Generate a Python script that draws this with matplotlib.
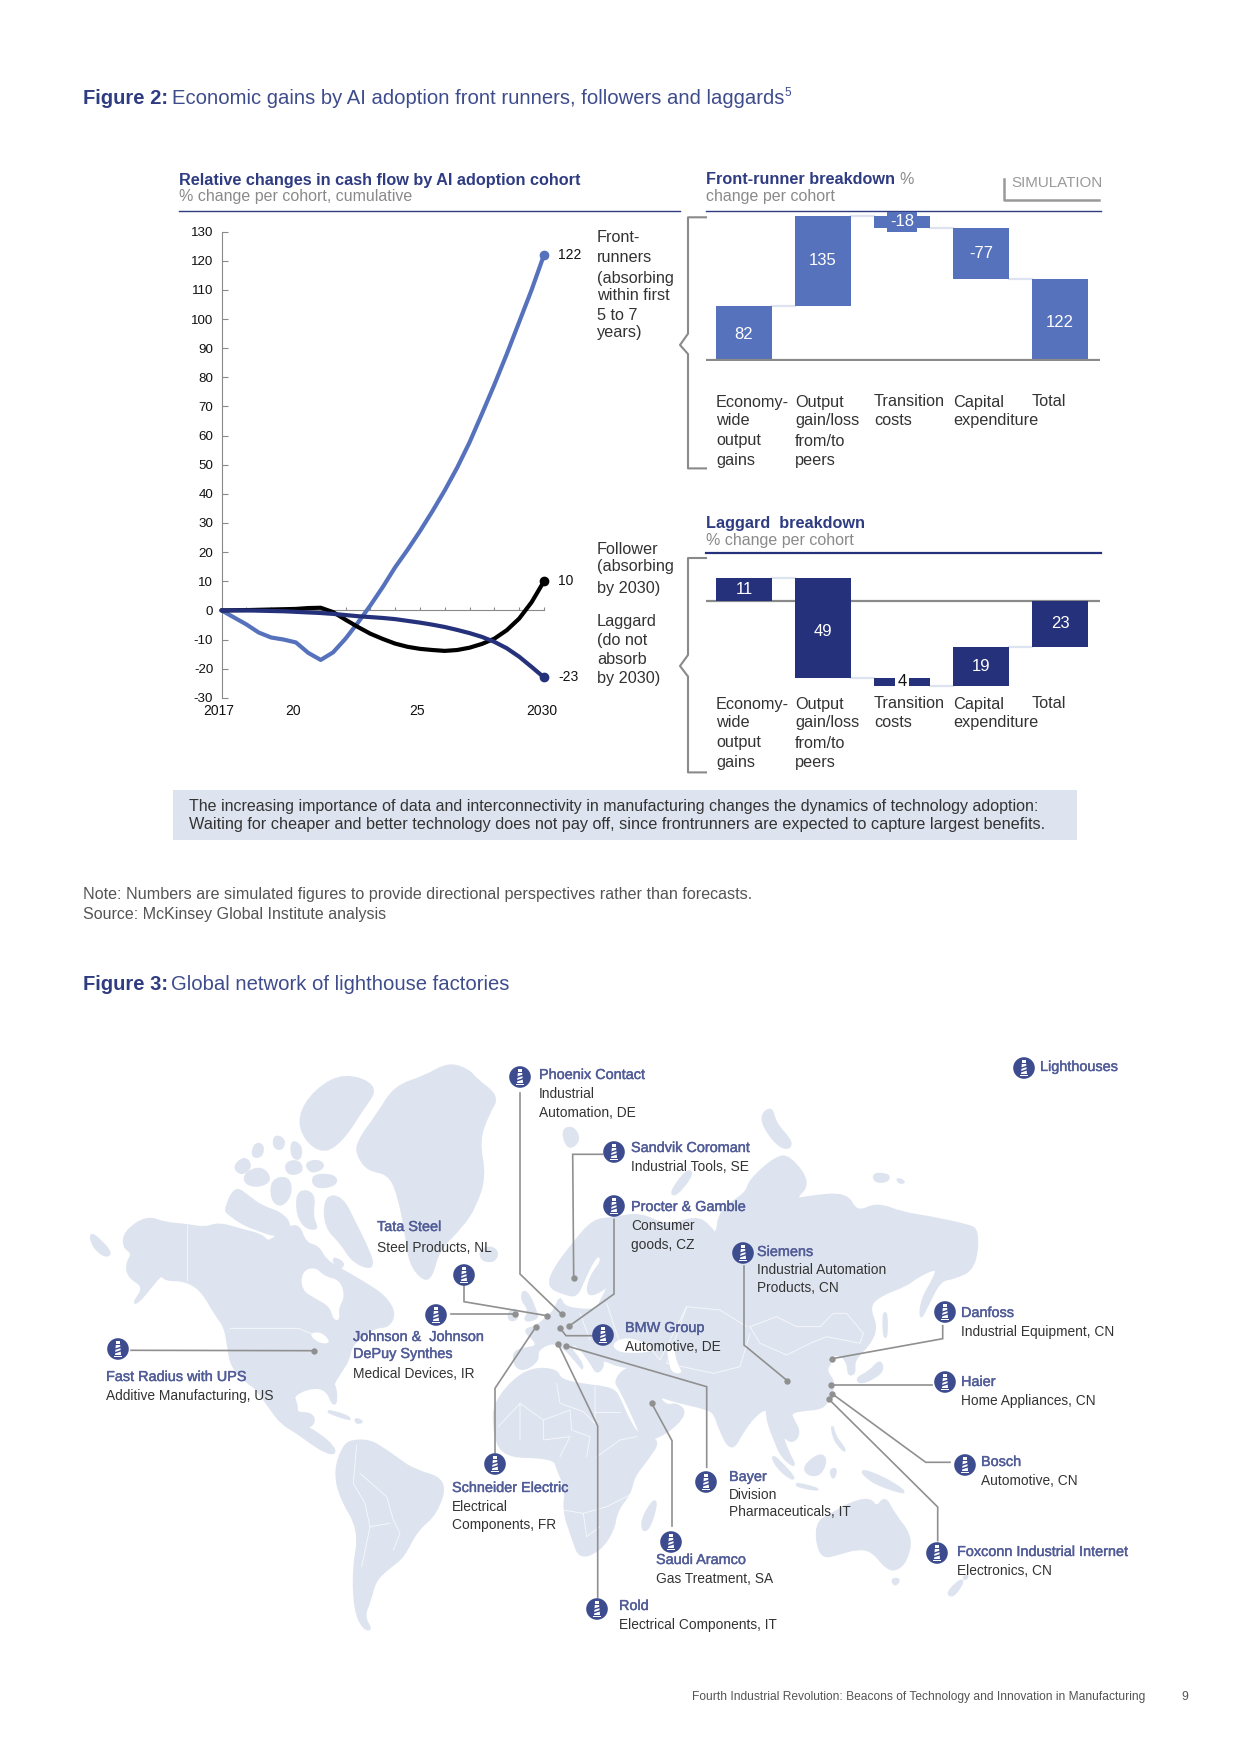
import matplotlib
matplotlib.use('Agg')
import matplotlib.pyplot as plt
import matplotlib.patheffects as pe
from matplotlib.patches import Polygon, Circle, Rectangle, PathPatch
from matplotlib.path import Path

plt.rcParams['font.family'] = ['Liberation Sans', 'DejaVu Sans']

W, H = 1240, 1754
NAVY = '#25317A'
BLUE = '#5672BC'
TITLE = '#3F4C8C'
HEAD = '#2F3C82'
NAME = '#525D98'
GREY = '#8A8A8A'
LAND = '#DEE4EF'
TXT = '#333333'

# --- chart data
years = [2017, 2018, 2018.5, 2019, 2019.5, 2020, 2020.5, 2021, 2021.5, 2022, 2022.5, 2023, 2023.5, 2024, 2024.5,
         2025, 2025.5, 2026, 2026.5, 2027, 2027.5, 2028, 2028.5, 2029, 2029.5, 2030]
front_runners = [0, -4.8, -7.6, -9.3, -10, -11, -14.6, -17, -14.4, -9.7, -4.2, 1.7, 8, 14.8, 20.8,
                 27.2, 34, 41.2, 49, 57.7, 67.5, 77.5, 88, 99, 110, 122]
followers = [0, 0.1, 0.2, 0.3, 0.4, 0.5, 0.8, 0.9, -0.6, -3.2, -5.7, -8, -9.8, -11.4, -12.5,
             -13.2, -13.6, -13.9, -13.6, -12.8, -11.5, -9.7, -6.8, -2.8, 2.8, 10]
laggards = [0, 0, -0.1, -0.2, -0.3, -0.5, -0.7, -0.9, -1.2, -1.6, -2, -2.3, -2.6, -3, -3.6,
            -4.2, -4.9, -5.7, -6.7, -7.8, -9.1, -10.8, -13, -15.9, -19.4, -23]
y_ticks = list(range(-30, 131, 10))
year_ticks = list(range(2017, 2031))
year_labels = {2017: '2017', 2020: '20', 2025: '25', 2030: '2030'}

steps = ['Economy-\nwide\noutput\ngains', 'Output\ngain/loss\nfrom/to\npeers', 'Transition\ncosts',
         'Capital\nexpenditure', 'Total']
front_steps = [82, 135, -18, -77, 122]
lag_steps = [11, -49, -4, 19, -23]

# --- map labels: name, description lines
lighthouses = [
    ('Phoenix Contact', ['Industrial', 'Automation, DE']),
    ('Sandvik Coromant', ['Industrial Tools, SE']),
    ('Procter & Gamble', ['Consumer', 'goods, CZ']),
    ('Tata Steel', ['Steel Products, NL']),
    ('Johnson &  Johnson\nDePuy Synthes', ['Medical Devices, IR']),
    ('Fast Radius with UPS', ['Additive Manufacturing, US']),
    ('BMW Group', ['Automotive, DE']),
    ('Siemens', ['Industrial Automation', 'Products, CN']),
    ('Schneider Electric', ['Electrical', 'Components, FR']),
    ('Bayer', ['Division', 'Pharmaceuticals, IT']),
    ('Saudi Aramco', ['Gas Treatment, SA']),
    ('Rold', ['Electrical Components, IT']),
    ('Danfoss', ['Industrial Equipment, CN']),
    ('Haier', ['Home Appliances, CN']),
    ('Bosch', ['Automotive, CN']),
    ('Foxconn Industrial Internet', ['Electronics, CN']),
]
icon_xy = [(520, 1077), (614, 1152), (614, 1206), (464, 1275), (436, 1315), (118, 1349), (603, 1335), (743, 1253),
           (495, 1464), (706, 1482), (671, 1542), (597, 1609), (945, 1312), (945, 1382), (965, 1465), (937, 1553)]
label_x = [539, 631, 631, 377, 353, 106, 625, 757, 452, 729, 656, 619, 961, 961, 981, 957]
label_y = [[1075, 1094, 1113], [1148, 1167], [1207, 1226, 1245], [1227, 1248], [1337, 1354, 1374], [1377, 1396],
           [1328, 1347], [1252, 1270, 1288], [1488, 1507, 1525], [1477, 1495, 1512], [1560, 1579], [1606, 1625],
           [1313, 1332], [1382, 1401], [1462, 1481], [1552, 1571]]
leaders = [
    [(520, 1093), (520, 1274), (561.7, 1314.3)],
    [(602.7, 1154.3), (572.7, 1154.3), (573.7, 1278)],
    [(614, 1219.3), (614, 1294), (569.3, 1326)],
    [(464, 1286), (464, 1301.7), (547, 1315.7)],
    [(451, 1314.3), (514.7, 1314.3)],
    [(131, 1350.3), (314.3, 1350.7)],
    [(592.7, 1335.7), (566, 1335.7), (559.7, 1327.7)],
    [(744, 1266), (744, 1345), (787.3, 1380.7)],
    [(495, 1452.7), (495, 1388.3), (536, 1326.7)],
    [(706.7, 1467.3), (706.7, 1386.7), (566, 1345.7)],
    [(672, 1526), (672, 1440.7), (651.7, 1403.3)],
    [(597.7, 1597.3), (597.7, 1426), (558, 1343.7)],
    [(942.7, 1325.7), (942.7, 1338.7), (832, 1358.7)],
    [(931.7, 1385.3), (831, 1385.3)],
    [(950, 1462.3), (925.7, 1462.3), (832, 1393.7)],
    [(937.7, 1540.7), (937.7, 1507), (828.7, 1399)],
]


def trace(x0, y0, pts):
    return [(x0 + a / 3, y0 + b / 3) for a, b in pts]


eurasia = trace(480, 1080, [
    (105, 860), (135, 870), (175, 840), (170, 810), (215, 785), (250, 800), (295, 850), (310, 870), (300, 840),
    (265, 800), (290, 790), (335, 850), (350, 880), (370, 860), (365, 835), (420, 860), (470, 860), (430, 870),
    (405, 905), (420, 925), (470, 1030), (490, 1085), (560, 1060), (620, 1000), (590, 970), (560, 980), (530, 945),
    (590, 965), (680, 985), (705, 1000), (720, 1050), (755, 1115), (790, 1050), (830, 1000), (860, 985)
]) + trace(700, 1080, [
    (200, 990), (205, 1030), (225, 1080), (245, 1130), (290, 1165), (260, 1110), (245, 1060), (275, 1090), (300, 1060),
    (280, 1020), (270, 1000), (300, 990), (370, 985), (388, 950), (405, 910), (375, 870), (395, 845), (375, 830),
    (420, 820), (445, 850), (445, 885), (465, 880), (460, 840), (510, 790), (530, 740), (505, 680), (540, 645),
    (620, 615), (650, 590), (715, 560), (700, 600), (665, 660), (660, 720), (680, 680), (720, 600), (760, 595),
    (825, 565), (835, 450), (800, 435), (680, 410), (610, 400), (530, 370), (470, 400), (440, 340), (330, 350),
    (280, 360), (330, 310), (270, 230), (230, 230), (150, 300), (140, 340)
]) + trace(480, 1080, [
    (720, 390), (710, 470), (690, 440), (650, 410), (560, 440), (480, 400), (400, 415), (340, 420), (280, 490),
    (220, 570), (205, 620), (250, 640), (290, 650), (310, 600), (350, 520), (370, 540), (330, 590), (320, 650),
    (370, 630), (395, 600), (370, 650), (350, 690), (300, 690), (250, 680), (240, 650), (225, 690), (205, 710),
    (170, 740), (130, 750), (165, 780), (170, 800), (140, 805), (100, 815)
])
north_america = trace(85, 1050, [
    (120, 545), (185, 500), (240, 520), (305, 525), (360, 535), (400, 520), (470, 540), (530, 555), (550, 580),
    (590, 545), (640, 520), (660, 580), (700, 590), (720, 630), (770, 660), (840, 700), (900, 740), (930, 790),
    (910, 830), (870, 830), (800, 880), (790, 930), (770, 960), (745, 1000), (740, 1020), (750, 1055), (745, 1060),
    (725, 1020), (690, 1010), (640, 1025), (620, 1050), (630, 1090), (680, 1090), (690, 1120), (650, 1140),
    (680, 1160), (720, 1190), (745, 1195), (745, 1210), (720, 1205), (680, 1180), (640, 1150), (590, 1120),
    (560, 1080), (510, 1010), (490, 1000), (440, 950), (430, 890), (420, 830), (390, 790), (350, 720), (300, 690),
    (240, 690), (230, 670), (190, 720), (160, 755), (145, 760), (180, 710), (130, 680), (125, 640), (145, 610),
    (115, 590)
])
south_america = trace(340, 1370, [
    (35, 212), (90, 212), (135, 240), (170, 265), (220, 300), (320, 330), (290, 430), (230, 480), (190, 560),
    (150, 590), (105, 630), (90, 690), (70, 740), (95, 780), (70, 775), (45, 720), (40, 600), (60, 480), (0, 380),
    (-15, 300), (10, 230)
])
africa = trace(480, 1360, [
    (100, 60), (160, 25), (230, 30), (240, 60), (310, 75), (400, 85), (420, 120), (450, 190), (480, 230), (540, 240),
    (500, 300), (460, 350), (450, 400), (410, 450), (400, 510), (360, 570), (300, 595), (280, 540), (250, 450),
    (260, 390), (230, 320), (225, 300), (170, 290), (100, 290), (55, 265), (40, 190), (45, 130)
])
greenland = trace(85, 1050, [
    (815, 280), (880, 190), (930, 110), (1020, 80), (1090, 40), (1150, 60), (1175, 90), (1240, 140), (1210, 190),
    (1180, 270), (1200, 380), (1170, 470), (1130, 530), (1060, 600), (1040, 680), (1015, 690), (975, 640), (965, 560),
    (940, 430), (910, 370), (850, 360), (820, 320)
])
australia = trace(760, 1380, [
    (165, 430), (220, 400), (270, 370), (330, 355), (350, 385), (375, 350), (400, 400), (455, 470), (440, 540),
    (410, 570), (380, 565), (335, 510), (290, 505), (240, 520), (180, 535)
])
islands = [
    trace(85, 1050, [(640, 1120), (700, 1150), (750, 1195), (745, 1215), (700, 1190), (640, 1150)]),
    trace(85, 1050, [(725, 1000), (750, 1000), (755, 1060), (740, 1060)]),
    trace(85, 1050, [(520, 990), (630, 1020), (640, 1130), (590, 1110)]),
    trace(85, 1050, [(720, 440), (770, 440), (810, 520), (840, 580), (865, 640), (850, 655), (800, 630), (770, 580), (720, 530)]),
    trace(85, 1050, [(420, 480), (450, 410), (490, 440), (530, 470), (590, 490), (620, 530), (580, 560), (520, 540), (470, 520), (430, 490)]),
    trace(85, 1050, [(640, 200), (690, 120), (780, 70), (880, 110), (830, 180), (780, 260), (720, 310), (660, 270)]),
    trace(85, 1050, [(570, 255), (600, 270), (590, 300), (565, 290)]),
    trace(85, 1050, [(620, 270), (650, 290), (645, 330), (620, 320)]),
    trace(85, 1050, [(510, 280), (535, 285), (530, 320), (500, 320)]),
    trace(85, 1050, [(445, 350), (480, 320), (500, 350), (470, 375)]),
    trace(85, 1050, [(480, 370), (530, 350), (560, 390), (520, 410), (480, 400)]),
    trace(85, 1050, [(600, 340), (640, 330), (655, 365), (610, 375)]),
    trace(85, 1050, [(660, 340), (700, 330), (720, 350), (680, 370)]),
    trace(85, 1050, [(680, 375), (750, 375), (755, 405), (690, 415)]),
    trace(85, 1050, [(560, 390), (610, 380), (620, 430), (590, 470), (560, 450)]),
    trace(85, 1050, [(640, 420), (690, 430), (680, 500), (700, 540), (655, 530), (635, 480)]),
    trace(85, 1050, [(740, 620), (780, 640), (760, 660)]),
    trace(85, 1050, [(1185, 600), (1220, 590), (1240, 610), (1225, 635), (1190, 630)]),
    trace(85, 1050, [(15, 550), (40, 565), (80, 610), (60, 620), (25, 590)]),
    trace(85, 1050, [(720, 1080), (780, 1095), (800, 1110), (750, 1095)]),
    trace(85, 1050, [(810, 1105), (835, 1115), (815, 1120)]),
    trace(480, 1080, [(130, 630), (150, 650), (165, 690), (175, 715), (130, 725), (150, 690), (125, 660)]),
    trace(480, 1080, [(90, 690), (115, 690), (110, 720), (85, 720)]),
    trace(480, 1080, [(245, 150), (280, 140), (300, 180), (265, 210)]),
    trace(480, 1080, [(570, 340), (620, 270), (640, 280), (590, 345)]),
    trace(480, 1360, [(520, 420), (530, 430), (510, 500), (490, 515), (485, 480)]),
    trace(700, 1080, [(470, 895), (510, 875), (540, 840), (550, 870), (520, 895), (480, 910)]),
    trace(700, 1080, [(550, 700), (560, 700), (560, 770), (552, 770)]),
    trace(700, 1080, [(180, 110), (215, 80), (225, 130), (280, 190), (255, 210), (210, 170)]),
    trace(700, 1080, [(520, 280), (570, 285), (560, 305), (525, 305)]),
    trace(700, 1080, [(590, 295), (615, 305), (600, 310)]),
    trace(760, 1380, [(215, 130), (225, 170), (250, 200), (255, 215), (235, 195), (220, 170)]),
    trace(760, 1380, [(35, 225), (60, 245), (105, 295), (90, 295), (50, 260)]),
    trace(760, 1380, [(110, 310), (170, 325), (170, 330), (110, 318)]),
    trace(760, 1380, [(130, 260), (180, 220), (200, 240), (180, 285), (145, 285)]),
    trace(760, 1380, [(210, 270), (230, 265), (220, 300)]),
    trace(760, 1380, [(300, 270), (340, 280), (400, 310), (440, 340), (400, 330), (360, 315), (330, 300)]),
    trace(760, 1380, [(395, 597), (420, 597), (405, 618)]),
    trace(760, 1380, [(560, 640), (600, 600), (610, 605), (580, 650)]),
    trace(760, 1380, [(610, 590), (625, 585), (615, 600)]),
]
inland_water = [
    trace(85, 1050, [(650, 665), (690, 650), (720, 680), (765, 690), (780, 740), (760, 775), (765, 810), (745, 810), (735, 770), (690, 745), (650, 720)]),
    trace(480, 1080, [(395, 790), (440, 770), (500, 790), (520, 815), (460, 820), (410, 815)]),
    trace(480, 1080, [(560, 800), (580, 790), (590, 850), (610, 880), (575, 880), (565, 840)]),
    trace(85, 1050, [(670, 850), (710, 845), (740, 880), (700, 880)]),
]
borders = [
    trace(85, 1050, [(435, 835), (640, 835), (700, 860)]),
    trace(85, 1050, [(305, 525), (305, 690)]),
    trace(700, 1080, [(150, 740), (230, 710), (290, 740), (360, 740), (400, 700), (440, 700), (490, 760), (480, 790), (380, 770), (330, 790), (260, 825), (180, 790), (150, 740)]),
    trace(480, 1360, [(230, 70), (240, 130), (310, 155), (345, 190), (345, 80)]),
    trace(480, 1360, [(345, 155), (420, 155)]),
    trace(480, 1360, [(120, 130), (190, 180), (270, 150), (275, 210), (330, 230), (320, 290)]),
    trace(480, 1360, [(55, 200), (120, 130), (120, 240)]),
    trace(480, 1360, [(190, 180), (190, 240), (270, 230), (240, 290)]),
    trace(480, 1360, [(350, 290), (420, 240), (470, 230)]),
    trace(480, 1360, [(250, 450), (310, 460), (380, 440), (460, 400)]),
    trace(480, 1360, [(310, 460), (320, 530), (360, 500)]),
    trace(340, 1370, [(60, 310), (140, 380), (160, 450), (180, 490), (160, 540)]),
    trace(340, 1370, [(90, 470), (150, 460)]),
    trace(340, 1370, [(50, 225), (40, 340), (75, 400), (90, 470), (65, 590)]),
    trace(480, 1080, [(500, 790), (540, 840), (620, 680), (720, 690), (800, 740)]),
    trace(480, 1080, [(620, 680), (560, 850), (700, 880), (780, 860), (810, 760)]),
    trace(480, 1080, [(380, 670), (420, 790)]),
    trace(480, 1080, [(300, 700), (330, 780)]),
]


def ax_px(x0, x1, ytop, ybot):
    ax = fig.add_axes([x0 / W, 1 - ybot / H, (x1 - x0) / W, (ybot - ytop) / H])
    ax.patch.set_alpha(0)
    return ax


def label(x, y, s, size=11.7, color=TXT, **kw):
    return page.text(x, y, s, fontsize=size, color=color, va='center', **kw)


def name_label(x, y, s):
    # the original face is a medium weight, thicken the regular one a little
    t = label(x, y, s, size=10.4, color=NAME, zorder=6)
    t.set_path_effects([pe.withStroke(linewidth=0.3, foreground=NAME)])


def rounded_land(pts):
    # closed quadratic path through the outline midpoints, softens the corners of the tracing
    mids = [((pts[i][0] + pts[(i + 1) % len(pts)][0]) / 2, (pts[i][1] + pts[(i + 1) % len(pts)][1]) / 2)
            for i in range(len(pts))]
    verts = [mids[-1]]
    codes = [Path.MOVETO]
    for i in range(len(pts)):
        verts += [pts[i], mids[i]]
        codes += [Path.CURVE3, Path.CURVE3]
    return Path(verts, codes)


def draw_icon(x, y, r=10.8):
    navy = '#3D4C8E'
    page.add_patch(Circle((x, y), r, fc=navy, ec='none', zorder=4))
    page.add_patch(Polygon([(x - 2.2, y - 4), (x + 2.2, y - 4), (x + 3, y + 6), (x - 3, y + 6)], fc='white', ec='none', zorder=5))
    page.add_patch(Rectangle((x - 1.7, y - 8), 3.4, 3, fc='white', ec='none', zorder=5))
    page.add_patch(Rectangle((x - 3.6, y + 7), 7.2, 1.2, fc='white', ec='none', zorder=5))
    page.add_patch(Polygon([(x - 3, y - 0.5), (x + 3, y - 2.5), (x + 3, y - 1), (x - 3, y + 1)], fc=navy, ec='none', zorder=6))
    page.add_patch(Polygon([(x - 3, y + 3), (x + 3, y + 1), (x + 3, y + 2.5), (x - 3, y + 4.5)], fc=navy, ec='none', zorder=6))


def waterfall(ax, values, color, px_per_unit, base_px, top_px, bot_px):
    ax.set_xlim((706 - 744) / 79, (1100 - 744) / 79)
    ax.set_ylim((base_px - bot_px) / px_per_unit, (base_px - top_px) / px_per_unit)
    run = 0
    for i, v in enumerate(values):
        if i == len(values) - 1:
            lo, hi = min(0, v), max(0, v)
        else:
            lo, hi = min(run, run + v), max(run, run + v)
            run += v
        ax.bar(i, hi - lo, bottom=lo, width=0.72, color=color, zorder=3)
        if i < len(values) - 1:
            ax.plot([i + 0.36, i + 0.64], [run, run], color='#DDE3F0', lw=1.6, zorder=2)
    ax.axhline(0, color=GREY, lw=1.6, zorder=4 if values[0] > 20 else 1)
    for s in ax.spines.values():
        s.set_visible(False)
    ax.set_xticks([])
    ax.set_yticks([])


fig = plt.figure(figsize=(W / 100, H / 100), dpi=100)
page = fig.add_axes([0, 0, 1, 1])
page.set_xlim(0, W)
page.set_ylim(H, 0)
page.axis('off')

# headings
label(83, 98, 'Figure 2:', size=14.5, color=HEAD, fontweight='bold')
label(172, 98, 'Economic gains by AI adoption front runners, followers and laggards', size=14.6, color=TITLE)
label(784, 93, '5', size=8.5, color=TITLE)
label(83, 984, 'Figure 3:', size=14.5, color=HEAD, fontweight='bold')
label(171, 984, 'Global network of lighthouse factories', size=14.6, color=TITLE)

label(179, 180, 'Relative changes in cash flow by AI adoption cohort', size=11.73, color=HEAD, fontweight='bold')
label(179, 196, '% change per cohort, cumulative', size=11.5, color=GREY)
label(706, 179, 'Front-runner breakdown', size=11.73, color=HEAD, fontweight='bold')
label(899, 179, '%', size=11.5, color=GREY)
label(706, 196, 'change per cohort', size=11.5, color=GREY)
label(706, 523.5, 'Laggard  breakdown', size=11.73, color=HEAD, fontweight='bold')
label(706, 540.6, '% change per cohort', size=11.5, color=GREY)
label(1011, 183, 'SIMULATION', size=10.9, color='#999999')
page.plot([1004, 1004, 1099], [178.6, 199.8, 199.8], color='#999999', lw=1.8)
page.plot([179, 680], [211, 211], color=HEAD, lw=1)
page.plot([706, 1101], [211, 211], color=HEAD, lw=1)
page.plot([706, 1101], [553, 553], color=NAVY, lw=1.6)

# cohort labels beside the line chart
for y, s in zip([238, 257, 278.6, 296, 315, 333], ['Front-', 'runners', '(absorbing', 'within first', '5 to 7', 'years)']):
    label(597, y, s)
for y, s in zip([549, 567, 588, 621.4, 640, 660, 679], ['Follower', '(absorbing', 'by 2030)', 'Laggard', '(do not', 'absorb', 'by 2030)']):
    label(597, y, s)

# curly brackets
page.plot([706, 688, 688, 680, 688, 688, 706], [217.3, 217.3, 333.7, 345, 354, 468.4, 468.4], color=GREY, lw=1.5)
page.plot([706, 688, 688, 680, 688, 688, 706], [558, 558, 655, 666, 676.5, 772.4, 772.4], color=GREY, lw=1.5)

# step labels under the waterfalls
line_gap = [0, 18.4, 39, 59]
for x, s in zip([716, 795, 874, 953, 1032], steps):
    for gap, part in zip(line_gap, s.split('\n')):
        label(x, 402 + gap, part)
        label(x, 704 + gap, part)

# takeaway box and notes
page.add_patch(Rectangle((173, 790), 904, 50, fc=LAND, ec='none'))
label(189, 806, 'The increasing importance of data and interconnectivity in manufacturing changes the dynamics of technology adoption:', size=11.5)
label(189, 824, 'Waiting for cheaper and better technology does not pay off, since frontrunners are expected to capture largest benefits.', size=11.7)
label(83, 894, 'Note: Numbers are simulated figures to provide directional perspectives rather than forecasts.', size=11.6, color='#555555')
label(83, 914, 'Source: McKinsey Global Institute analysis', size=11.5, color='#555555')
label(692, 1697, 'Fourth Industrial Revolution: Beacons of Technology and Innovation in Manufacturing', size=8.65, color='#555555')
label(1181, 1697, '9', size=8.8, color='#555555')

# map
for shape in [eurasia, north_america, south_america, africa, greenland, australia] + islands:
    page.add_patch(PathPatch(rounded_land(shape), fc=LAND, ec=LAND, lw=1.8, zorder=1))
for shape in inland_water:
    page.add_patch(PathPatch(rounded_land(shape), fc='white', ec='none', zorder=1.5))
for line in borders:
    page.plot([p[0] for p in line], [p[1] for p in line], color='white', lw=0.6, alpha=0.75, zorder=1.6)

for line in leaders:
    page.plot([p[0] for p in line], [p[1] for p in line], color='#909090', lw=1.2, zorder=3, solid_joinstyle='miter')
    page.plot(line[-1][0], line[-1][1], 'o', color='#909090', ms=4.6, mec='none', zorder=3)

for (x, y), lx, ly, (name, desc) in zip(icon_xy, label_x, label_y, lighthouses):
    draw_icon(x, y)
    rows = name.split('\n') + desc
    for row_y, row in zip(ly, rows):
        if row in desc:
            label(lx, row_y, row, size=9.9, zorder=6)
        else:
            name_label(lx, row_y, row)
draw_icon(1024, 1068)
name_label(1040, 1067, 'Lighthouses')

# line chart
ax = ax_px(221.5, 544, 231.6, 697.8)
ax.set_xlim(2017, 2030)
ax.set_ylim(-30, 130)
ax.plot(years, front_runners, color=BLUE, lw=3, clip_on=False, solid_capstyle='round', zorder=3)
ax.plot(years, followers, color='black', lw=3, clip_on=False, solid_capstyle='round', zorder=4)
ax.plot(years, laggards, color=NAVY, lw=3, clip_on=False, solid_capstyle='round', zorder=5)
ax.plot(2030, front_runners[-1], 'o', color=BLUE, ms=6, clip_on=False, zorder=6)
ax.plot(2030, followers[-1], 'o', color='black', ms=6, clip_on=False, zorder=6)
ax.plot(2030, laggards[-1], 'o', color=NAVY, ms=6, clip_on=False, zorder=6)
for v in [front_runners[-1], followers[-1], laggards[-1]]:
    ax.annotate(str(v), (2030, v), xytext=(10, 0), textcoords='offset points', fontsize=10, color='#111111', va='center')
ax.spines['top'].set_visible(False)
ax.spines['right'].set_visible(False)
ax.spines['left'].set_color(GREY)
ax.spines['bottom'].set_color(GREY)
ax.spines['bottom'].set_position(('data', 0))
ax.set_yticks(y_ticks)
ax.set_yticklabels([str(t) for t in y_ticks], fontsize=9.6, color='#111111')
ax.set_xticks(year_ticks)
ax.tick_params(axis='y', direction='in', length=4.3, color=GREY, pad=6)
ax.tick_params(axis='x', direction='in', length=2, color=GREY, labelbottom=False)
for yr, s in year_labels.items():
    ax.text(yr - 0.1, -34.6, s, fontsize=10, color='#111111', ha='center', va='center')

# front-runner waterfall
ax2 = ax_px(706, 1100, 205, 361)
waterfall(ax2, front_steps, BLUE, 0.665, 360.2, 205, 361)
for i, (y, s) in enumerate(zip([38, 150, 208, 160, 56], ['82', '135', '-18', '-77', '122'])):
    box = dict(fc=BLUE, ec='none', pad=2) if i == 2 else None
    ax2.text(i, y, s, color='white', fontsize=12, ha='center', va='center', zorder=6, bbox=box)

# laggard waterfall
ax3 = ax_px(706, 1100, 560, 690)
waterfall(ax3, lag_steps, NAVY, 2.03, 600.6, 560, 690)
for i, (y, s) in enumerate(zip([5.5, -15, -40, -32.5, -11.5], ['11', '49', '4', '19', '23'])):
    if i == 2:
        ax3.text(i, y, s, color='#111111', fontsize=12, ha='center', va='center', zorder=6,
                 bbox=dict(fc='white', ec='none', pad=1.5))
    else:
        ax3.text(i, y, s, color='white', fontsize=12, ha='center', va='center', zorder=6)

fig.savefig('out.png', dpi=100)
